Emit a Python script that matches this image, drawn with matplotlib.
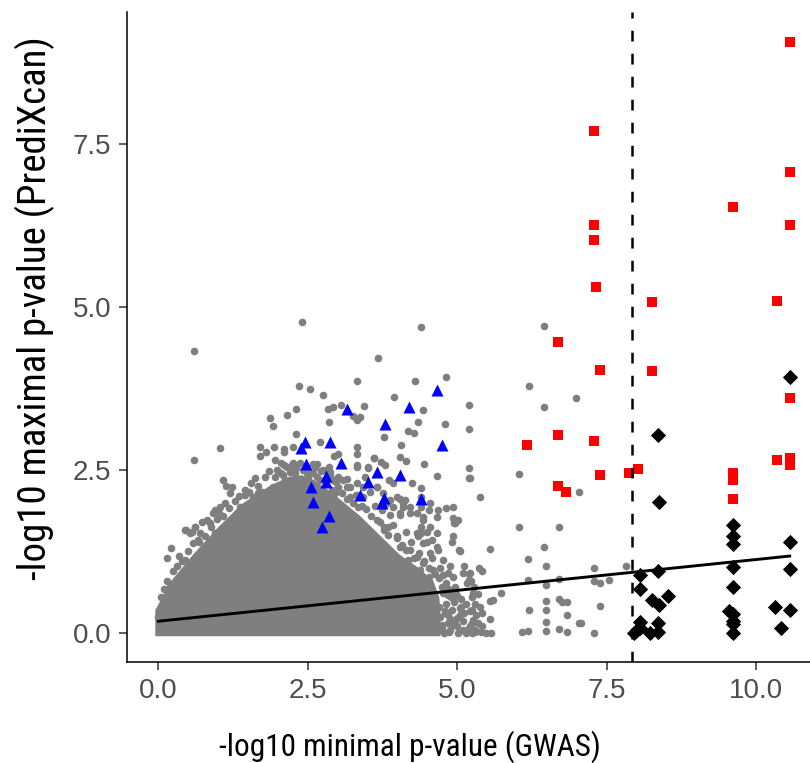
import numpy as np
import matplotlib
matplotlib.use("Agg")
import matplotlib.pyplot as plt

# --- datos ---
# nube densa de genes (contorno del nucleo gris)
core_x = [-0.05, -0.05, 0.20, 0.60, 1.00, 1.40, 1.87, 2.20, 2.40, 2.60, 2.92, 3.37,
          3.76, 4.04, 4.35, 4.60, 4.70, 4.72, 4.72]
core_y = [-0.05, 0.35, 0.78, 1.22, 1.62, 1.98, 2.26, 2.40, 2.42, 2.35, 2.14, 1.80,
          1.45, 1.20, 1.00, 0.80, 0.55, 0.30, -0.05]

# puntos grises sueltos
grey_x = [2.40, 0.59, 2.36, 2.54, 2.30, 2.16, 1.87, 1.92, 2.30, 1.03, 1.70, 1.70, 1.81, 1.93,
          2.10, 2.10, 1.96, 2.10, 2.26, 0.59, 2.26,
          4.40, 3.67, 3.33, 4.29, 4.81, 2.75, 3.94, 5.20, 2.84, 2.92, 3.05, 3.44, 4.42, 3.25,
          3.37, 3.33, 2.85, 4.35, 4.80, 5.20, 4.18, 4.28, 3.78, 2.70, 3.32, 4.06, 3.32, 2.94,
          3.01, 3.60, 4.05, 4.15, 4.45, 5.20, 2.59, 2.65, 2.85, 3.32, 3.50, 3.72, 3.80,
          6.45, 6.20, 6.98, 6.45, 5.21, 6.03, 5.38, 7.03, 6.04, 6.70, 5.55, 6.45, 6.18, 6.48,
          5.37, 5.41, 7.28, 7.83, 5.21, 6.18, 6.48, 6.70, 7.28, 7.38, 7.53, 5.73, 5.55, 5.59,
          6.20, 6.48, 6.48, 6.48, 6.48, 6.70, 6.75, 6.83, 6.83, 7.03, 7.07, 7.38, 6.70, 6.83,
          6.08, 6.18, 7.28, 5.54, 5.41, 5.48, 5.56,
          5.23, 5.28, 5.35, 5.25, 5.30, 5.38, 5.25, 5.32, 5.42, 5.27, 5.35, 5.22, 5.30, 5.40, 5.25,
          4.93, 5.02, 4.96, 4.93, 4.92, 5.03, 5.04, 4.68, 5.12, 5.19, 5.19, 4.77, 4.96, 4.85,
          4.84, 4.79, 4.99, 5.07, 4.94, 5.10, 5.02, 5.19, 5.24, 5.30, 5.21,
          1.09, 1.14, 1.23, 1.20, 1.67, 1.73, 1.51, 1.45, 1.12, 0.95, 1.01, 0.73, 0.86, 0.45,
          0.56, 0.61, 0.22, 0.14, 0.34, 0.45, 0.67, 0.73, 0.20, 0.31, 0.39, 0.03, 0.00,
          1.98, 2.09, 2.23, 1.31, 1.37, 1.20,
          5.20, 4.67, 4.25, 4.39, 4.39, 4.04, 3.86, 3.93, 3.65, 3.46, 3.32, 3.51, 3.61, 3.15,
          3.15, 3.01, 2.95, 4.54, 4.52, 4.68, 4.82, 4.93, 4.95, 4.66, 4.40, 4.43, 4.40, 4.40,
          4.49, 4.13, 4.10, 4.21, 4.04, 3.82, 3.74, 3.87, 3.21, 3.43, 3.34, 2.37, 2.59, 2.48,
          2.70, 2.04, 1.87, 1.70, 2.87, 2.93,
          4.15, 4.35, 4.49, 4.57, 4.21, 4.32, 4.18, 4.43, 4.38, 4.27, 4.52, 4.60, 3.93, 4.04,
          3.85, 3.99, 4.04, 3.65, 3.77,
          4.70, 4.72, 4.75, 4.70, 4.78, 4.85, 4.88, 4.92, 4.95, 5.00, 5.05, 5.10, 5.15, 4.82, 4.90,
          0.47, 0.53, 0.61, 0.70, 0.81, 0.92, 1.03, 0.95, 1.48, 1.59, 1.67, 1.76, 1.87,
          1.92, 2.04, 2.15, 2.20, 2.06, 2.15, 2.20, 2.31, 2.37,
          2.54, 2.65, 2.76, 2.87, 2.98, 3.09, 3.21, 3.32, 3.43, 3.54, 3.65, 3.76, 3.87, 3.99,
          4.10, 4.21, 4.32, 4.43, 4.54, 4.66, 4.32, 4.43, 4.54, 4.66,
          4.77, 4.88, 4.93, 4.82, 5.10, 5.16, 5.27,
          4.76, 4.84, 4.90, 4.98, 5.06, 5.14, 4.80, 4.88, 4.96, 5.04, 5.12, 4.74, 4.86, 5.00,
          0.05, 0.10, 0.15, 0.25, 0.32, 0.40, 0.50, 0.58, 0.68, 0.78, 0.88, 0.98, 1.08, 1.18,
          1.28, 1.35, 1.45, 1.55, 1.62, 1.78, 1.85, 1.95, 2.05, 2.12, 2.28, 2.42, 2.50, 2.62,
          2.72, 2.80, 2.90, 3.00, 3.08, 3.15, 3.25, 3.30, 3.40, 3.48, 3.55, 3.62, 3.70, 3.78,
          3.85, 3.92, 4.00, 4.08, 4.15, 4.22, 4.28, 4.36, 4.45, 4.52, 4.58, 4.62, 4.70, 4.74,
          4.80, 4.72, 4.85]
grey_y = [4.77, 4.32, 3.79, 3.74, 3.43, 3.35, 3.29, 3.18, 3.05, 2.84, 2.86, 2.72, 2.77, 2.85,
          2.82, 2.77, 2.65, 2.58, 2.60, 2.66, 2.85,
          4.70, 4.22, 3.87, 3.86, 3.93, 3.65, 3.62, 3.50, 3.43, 3.47, 3.49, 3.48, 3.42, 3.33,
          3.31, 3.26, 3.23, 3.24, 3.21, 3.13, 3.10, 3.07, 3.00, 2.93, 2.86, 2.88, 2.75, 2.72,
          2.74, 2.68, 2.70, 2.64, 2.59, 2.53, 2.59, 2.59, 2.54, 2.57, 2.55, 2.62, 2.58,
          4.71, 3.79, 3.60, 3.47, 2.37, 2.44, 2.09, 2.16, 1.63, 1.62, 1.29, 1.32, 1.13, 1.03,
          1.00, 0.95, 0.99, 1.03, 0.92, 0.81, 0.74, 0.83, 0.80, 0.76, 0.81, 0.61, 0.49, 0.51,
          0.35, 0.49, 0.35, 0.17, 0.03, 0.52, 0.48, 0.47, 0.27, 0.16, 0.16, 0.42, 0.06, 0.02,
          0.01, 0.03, 0.00, 0.21, 0.11, 0.00, 0.00,
          0.80, 0.70, 0.60, 0.55, 0.45, 0.40, 0.35, 0.28, 0.30, 0.20, 0.15, 0.10, 0.05, 0.02, 0.00,
          1.93, 1.73, 1.69, 1.49, 1.40, 1.28, 1.25, 1.27, 1.03, 0.90, 0.81, 0.89, 0.71, 0.68,
          0.28, 0.30, 0.23, 0.40, 0.12, 0.05, 0.00, 0.07, 0.15, 0.02, 0.33,
          2.34, 2.25, 2.24, 2.14, 2.25, 2.17, 2.17, 2.12, 1.99, 1.89, 1.84, 1.71, 1.68, 1.58,
          1.55, 1.63, 1.30, 1.15, 1.18, 1.12, 1.43, 1.27, 0.71, 0.81, 0.86, 0.33, 0.25,
          2.50, 2.42, 2.58, 1.84, 1.94, 1.61,
          2.38, 2.41, 2.30, 2.22, 2.09, 2.06, 2.34, 2.30, 2.24, 2.40, 2.55, 2.53, 2.68, 2.36,
          2.24, 2.24, 2.14, 1.99, 1.89, 1.89, 1.91, 1.76, 1.68, 1.78, 1.94, 1.78, 1.63, 1.53,
          1.55, 2.04, 1.94, 1.84, 1.84, 1.99, 1.89, 1.81, 2.09, 2.09, 1.94, 2.35, 2.45, 2.45,
          2.35, 2.24, 2.09, 2.14, 2.47, 2.35,
          1.55, 1.48, 1.40, 1.42, 1.27, 1.17, 1.12, 1.07, 0.97, 0.89, 0.86, 0.97, 1.94, 1.81,
          1.63, 1.48, 1.32, 1.73, 1.58,
          0.40, 0.25, 0.12, 0.05, 0.00, 0.15, 0.05, 0.35, 0.48, 0.10, 0.28, 0.18, 0.00, 0.45, 0.55,
          1.58, 1.53, 1.63, 1.53, 1.73, 1.84, 1.94, 1.53, 2.17, 2.09, 2.14, 2.04, 1.99,
          2.24, 2.19, 2.14, 2.24, 2.45, 2.55, 2.47, 2.53, 2.60,
          2.45, 2.40, 2.50, 2.42, 2.32, 2.35, 2.24, 2.30, 2.24, 2.17, 2.24, 2.14, 2.04, 2.09,
          1.99, 1.94, 1.84, 1.73, 1.63, 1.53, 1.53, 1.38, 1.22, 1.32,
          1.12, 1.02, 0.86, 0.76, 0.92, 0.76, 0.61,
          0.62, 0.58, 0.66, 0.60, 0.52, 0.44, 0.34, 0.22, 0.20, 0.38, 0.30, 0.08, 0.02, 0.56,
          0.55, 0.68, 0.80, 0.95, 1.02, 1.10, 1.25, 1.38, 1.40, 1.48, 1.62, 1.75, 1.80, 1.92,
          2.02, 2.10, 2.20, 2.30, 2.38, 2.40, 2.48, 2.40, 2.60, 2.35, 2.45, 2.50, 2.40, 2.55,
          2.48, 2.30, 2.20, 2.40, 2.15, 2.05, 2.00, 2.12, 1.95, 1.90, 1.80, 1.95, 1.70, 1.62,
          1.50, 1.65, 1.45, 1.35, 1.28, 1.40, 1.15, 1.22, 1.10, 1.00, 1.15, 0.90, 0.85, 0.70,
          0.62, 1.00, 0.92]

# triangulos azules
blue_x = [4.67, 4.19, 3.15, 3.79, 4.75, 2.46, 2.87, 2.38, 2.47, 3.06, 3.66, 4.04, 2.80, 2.81,
          3.51, 2.55, 3.38, 3.77, 3.74, 4.40, 2.58, 2.85, 2.73]
blue_y = [3.72, 3.46, 3.43, 3.20, 2.89, 2.93, 2.93, 2.84, 2.59, 2.60, 2.47, 2.42, 2.41, 2.32,
          2.31, 2.24, 2.12, 2.07, 2.00, 2.06, 2.01, 1.79, 1.63]

# cuadrados rojos
red_x = [10.56, 7.29, 10.56, 9.61, 10.56, 7.29, 7.29, 7.32, 8.26, 10.34, 6.69, 7.38, 8.26,
         10.56, 6.69, 6.17, 7.28, 10.35, 10.56, 10.56, 7.38, 7.88, 8.03, 9.61, 9.61, 9.61,
         6.69, 6.82]
red_y = [9.06, 7.70, 7.07, 6.53, 6.26, 6.26, 6.03, 5.31, 5.07, 5.09, 4.46, 4.03, 4.02,
         3.61, 3.04, 2.89, 2.95, 2.66, 2.68, 2.57, 2.42, 2.46, 2.51, 2.45, 2.35, 2.06,
         2.26, 2.17]

# rombos negros
black_x = [10.56, 8.35, 8.37, 9.61, 9.61, 9.61, 10.56, 9.61, 10.56, 8.35, 8.05, 8.05, 9.61,
           8.52, 8.26, 8.37, 10.31, 10.56, 9.54, 9.61, 9.61, 9.61, 8.05, 8.35, 9.61, 10.41,
           8.35, 8.23, 8.00, 7.96, 8.06]
black_y = [3.93, 3.04, 2.01, 1.65, 1.48, 1.36, 1.39, 1.01, 0.98, 0.95, 0.89, 0.67, 0.71,
           0.57, 0.50, 0.43, 0.40, 0.35, 0.33, 0.29, 0.19, 0.14, 0.17, 0.15, 0.00, 0.07,
           0.02, 0.00, 0.05, 0.00, 0.07]

# recta de regresion y umbral
fit_x = [0.0, 10.56]
fit_y = [0.18, 1.18]
umbral = 7.92

fig = plt.figure(figsize=(8.1, 7.63), dpi=100)
ax = fig.add_axes([127 / 810, 101 / 763, 683 / 810, 650 / 763])

gris = "#7F7F7F"
ax.fill(core_x, core_y, color=gris, lw=0, zorder=1)
ax.scatter(grey_x, grey_y, s=30, color=gris, lw=0, zorder=2)
ax.scatter(blue_x, blue_y, s=75, marker="^", color="#0000FF", lw=0, zorder=3)
ax.scatter(red_x, red_y, s=45, marker="s", color="#FF0000", lw=0, zorder=3)
ax.scatter(black_x, black_y, s=60, marker="D", color="black", lw=0, zorder=3)
ax.plot(fit_x, fit_y, color="black", lw=2.1, zorder=4)
ax.axvline(umbral, color="black", lw=1.8, linestyle=(0, (4.3, 4.9)), zorder=4)

ax.set_xlim(-0.523, 10.90)
ax.set_ylim(-0.445, 9.525)
ax.set_xticks([0, 2.5, 5, 7.5, 10])
ax.set_xticklabels(["0.0", "2.5", "5.0", "7.5", "10.0"])
ax.set_yticks([0, 2.5, 5, 7.5])
ax.set_yticklabels(["0.0", "2.5", "5.0", "7.5"])

for lado in ["top", "right"]:
    ax.spines[lado].set_visible(False)
for lado in ["left", "bottom"]:
    ax.spines[lado].set_linewidth(1.1)

ax.tick_params(length=6, width=1.1, color="#333333", labelcolor="#4D4D4D",
               labelsize=20, pad=5.5)
for t in ax.get_xticklabels() + ax.get_yticklabels():
    t.set_fontfamily("Liberation Sans")

fig.text(410 / 810, 7 / 763, "-log10 minimal p-value (GWAS)",
         ha="center", va="baseline", fontsize=22.5, family=["Roboto Condensed", "Lato"])
fig.text(35 / 810, 1 - 308 / 763, "-log10 maximal p-value (PrediXcan)", rotation=90,
         ha="center", va="center", fontsize=28, family=["Roboto Condensed", "Lato"])

fig.savefig("out.png", dpi=100)
